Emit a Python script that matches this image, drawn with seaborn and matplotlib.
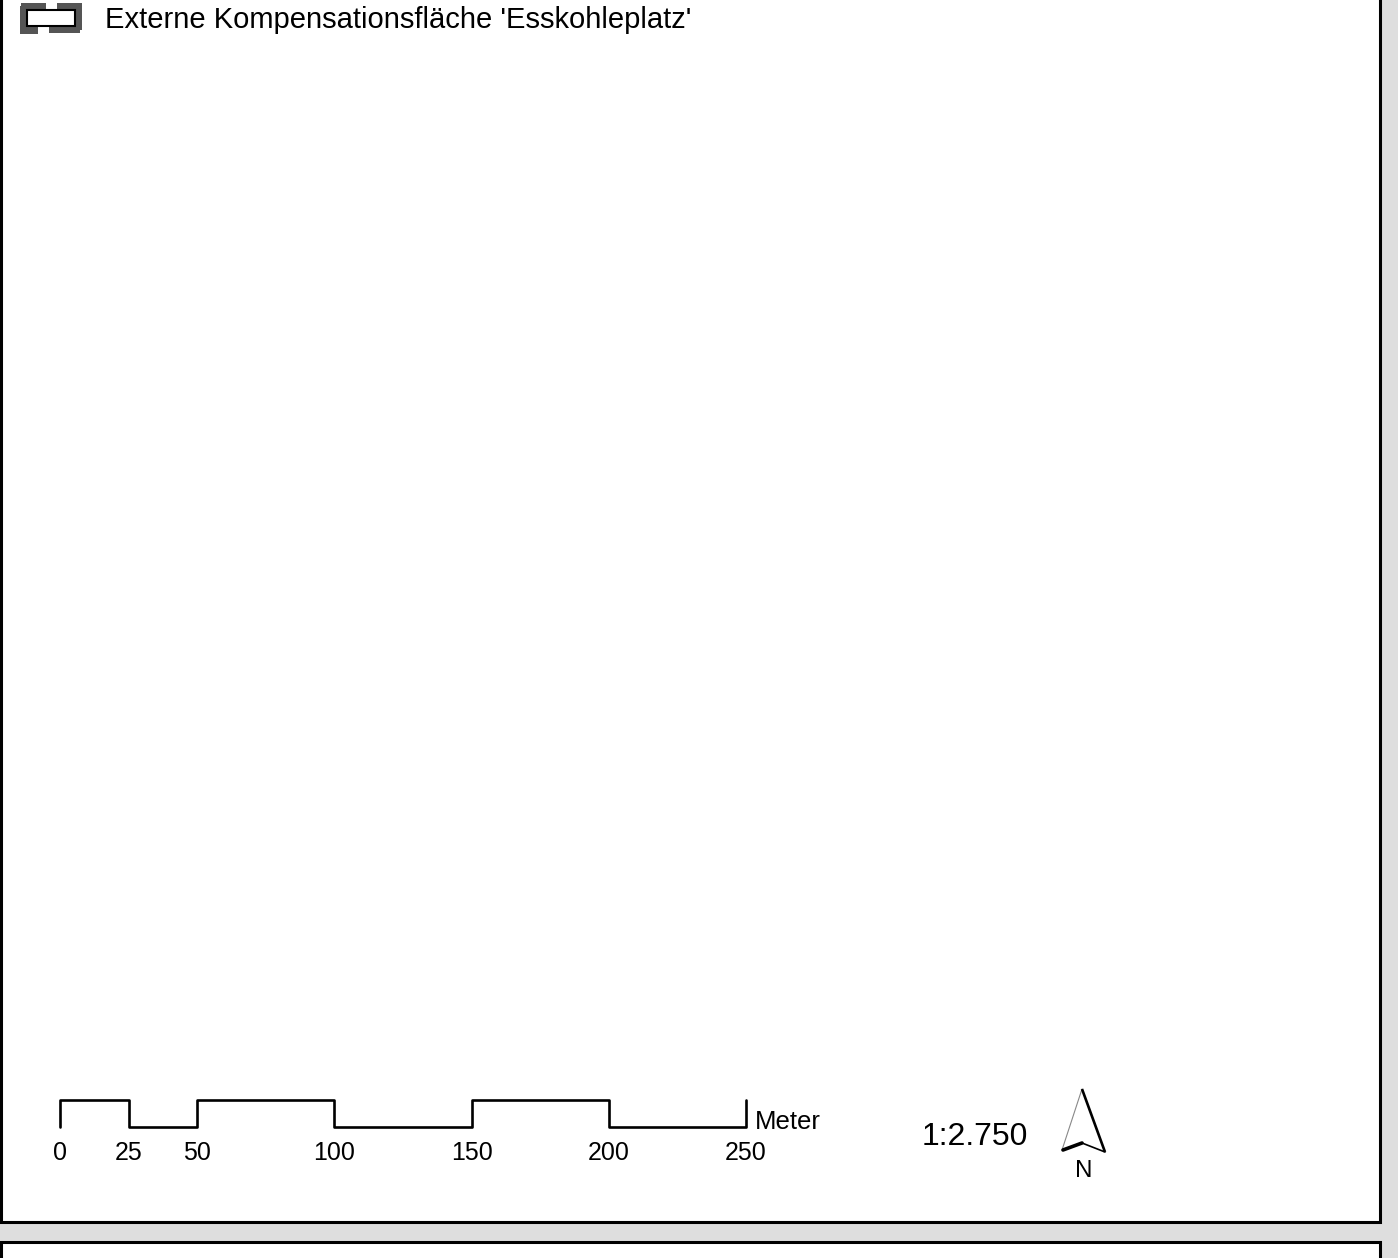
import matplotlib
matplotlib.use('Agg')
import matplotlib.pyplot as plt
import seaborn as sns
from matplotlib.patches import Rectangle

# scale bar data (metres)
scale_ticks = [0, 25, 50, 100, 150, 200, 250]
scale_unit = 'Meter'
scale_text = '1:2.750'
legend_label = "Externe Kompensationsfläche 'Esskohleplatz'"

sns.set_style('white')
plt.rcParams['font.family'] = ['Liberation Sans', 'DejaVu Sans']
plt.rcParams['text.color'] = 'black'

W, H = 1398, 1258
fig = plt.figure(figsize=(W / 100, H / 100), dpi=100)
fig.patch.set_facecolor('#dedede')

# page axes in pixel units
ax = fig.add_axes([0, 0, 1, 1])
ax.set_xlim(0, W)
ax.set_ylim(H, 0)
ax.axis('off')

# map panel frames
ax.add_patch(Rectangle((1, -20), 1379, 1242, facecolor='white', edgecolor='black', lw=2.2))
ax.add_patch(Rectangle((1, 1242), 1379, 60, facecolor='white', edgecolor='black', lw=2.2))

# legend symbol
gray = '#555555'
for (x0, y0, w, h) in [(21, 3, 25, 9), (57, 3, 23, 9), (20, 6, 7, 27), (75, 3, 7, 27),
                       (20, 23, 18, 11), (49, 23, 31, 10)]:
    ax.add_patch(Rectangle((x0, y0), w, h, facecolor=gray, edgecolor='none'))
ax.add_patch(Rectangle((27, 10), 48, 16, facecolor='white', edgecolor='black', lw=1.5))
ax.text(105, 28, legend_label, fontsize=21, ha='left', va='baseline')

# scale ratio
ax.text(922, 1145, scale_text, fontsize=23, ha='left', va='baseline')

# north arrow
ax.plot([1062, 1082], [1150, 1089], color='#888888', lw=0.8)
ax.plot([1082, 1105], [1089, 1152], color='black', lw=1.9, solid_capstyle='butt')
ax.plot([1063, 1082], [1150, 1143], color='black', lw=2.6)
ax.plot([1082, 1105], [1143, 1152], color='black', lw=1.2)
ax.text(1084, 1177, 'N', fontsize=17.5, ha='center', va='baseline')

# scale bar axes in metres
x_left, x_right, y_top, y_bot = 60, 746, 1100, 1127
sax = fig.add_axes([x_left / W, (H - y_bot) / H, (x_right - x_left) / W, (y_bot - y_top) / H])
sax.set_xlim(scale_ticks[0], scale_ticks[-1])
sax.set_ylim(0, 1)
sax.axis('off')

# step outline: up at 0, alternating high/low segments, up at the end
step_x = [scale_ticks[0]] + scale_ticks
step_y = [0] + [1 if i % 2 == 0 else 0 for i in range(len(scale_ticks) - 1)] + [1]
sns.lineplot(x=step_x, y=step_y, ax=sax, sort=False, estimator=None,
             drawstyle='steps-post', color='black', lw=1.9, legend=False)
for ln in sax.lines:
    ln.set_clip_on(False)

for t in scale_ticks:
    sax.text(t, -1.22, str(t), fontsize=18, ha='center', va='baseline', clip_on=False)
sax.text(scale_ticks[-1] + 3.2, -0.07, scale_unit, fontsize=18.5, ha='left', va='baseline', clip_on=False)

fig.savefig('out.png', dpi=100, facecolor=fig.get_facecolor())
